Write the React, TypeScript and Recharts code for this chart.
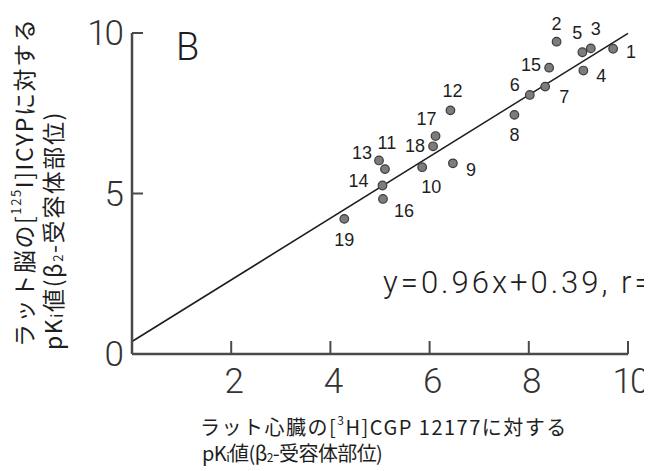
import React from 'react';
import { ScatterChart, Scatter, XAxis, YAxis, ReferenceLine, Customized } from 'recharts';

// pKi values for the 19 compounds: heart [3H]CGP12177 (x) vs brain [125I]ICYP (y)
const compoundIds = [1, 2, 3, 4, 5, 6, 7, 8, 9, 10, 11, 12, 13, 14, 15, 16, 17, 18, 19];
const heartPKi = [9.7, 8.56, 9.25, 9.1, 9.08, 8.02, 8.33, 7.71, 6.47, 5.85, 5.1, 6.42, 4.98, 5.05, 8.41, 5.06, 6.12, 6.07, 4.28];
const brainPKi = [9.51, 9.73, 9.52, 8.83, 9.4, 8.07, 8.33, 7.45, 5.94, 5.82, 5.76, 7.59, 6.03, 5.25, 8.92, 4.83, 6.79, 6.47, 4.21];

const xTicks = [2, 4, 6, 8, 10];
const yTicks = [0, 5, 10];

// regression y = 0.96x + 0.39
const slope = 0.96;
const intercept = 0.39;
const fitFrom = 0;
const fitTo = 10;

// where each compound number sits relative to its dot (px)
const labelOffset: Record<number, [number, number]> = {
  1: [18, 3], 2: [0, -18], 3: [5, -19], 4: [18, 5], 5: [-5, -19],
  6: [-15, -10], 7: [19, 10], 8: [0, 20], 9: [18, 7], 10: [9, 20],
  11: [2, -26], 12: [2, -19], 13: [-17, -7], 14: [-24, -4], 15: [-18, -3],
  16: [21, 12], 17: [-9, -17], 18: [-18, 0], 19: [0, 21],
};

const points = compoundIds.map((id, i) => ({ id, x: heartPKi[i], y: brainPKi[i] }));

const INK = '#1e1e1e';
const AXIS = '#4a4a4a';
const NUM_FONT = 'Roboto, "Liberation Sans", sans-serif';
const JP_FONT = '"Noto Sans CJK JP", "Noto Sans", sans-serif';

const Dot = (props: any) => {
  const { cx, cy, payload } = props;
  const [dx, dy] = labelOffset[payload.id] || [0, -16];
  return (
    <g>
      <circle cx={cx} cy={cy} r={4.3} fill="#7c7c7c" stroke="#3c3c3c" strokeWidth={1.2} />
      <text
        x={cx + dx}
        y={cy + dy}
        textAnchor="middle"
        dominantBaseline="central"
        fontFamily='"Liberation Sans Narrow", "Liberation Sans", sans-serif'
        fontSize={18}
        fill={INK}
      >
        {payload.id}
      </text>
    </g>
  );
};

const YTick = (props: any) => {
  const { x, y, payload } = props;
  return (
    <g>
      {payload.value > 0 && <line x1={x} y1={y} x2={x + 11} y2={y} stroke={AXIS} strokeWidth={2} />}
      <text x={x - 10} y={y} dy="0.35em" textAnchor="end" fontFamily={NUM_FONT} fontWeight={300} fontSize={35} letterSpacing={-2} fill="#333">
        {payload.value}
      </text>
    </g>
  );
};

const XTick = (props: any) => {
  const { x, y, payload } = props;
  return (
    <g>
      <line x1={x} y1={y} x2={x} y2={y - 13} stroke={AXIS} strokeWidth={2} />
      <text x={x + 2} y={y + 39} textAnchor="middle" fontFamily={NUM_FONT} fontWeight={300} fontSize={35} letterSpacing={-2} fill="#333">
        {payload.value}
      </text>
    </g>
  );
};

const Titles = () => (
  <g fill={INK}>
    <text x={168} y={52} fontFamily={NUM_FONT} fontWeight={300} fontSize={38}>B</text>
    <text x={375} y={285} fontFamily={NUM_FONT} fontWeight={300} fontSize={31} letterSpacing={3}>
      y=0.96x+0.39, r=
    </text>

    {/* y title, two rotated lines */}
    <g fontFamily={JP_FONT} fontSize={23} letterSpacing={1.6}>
      <text x={15} y={339} transform="rotate(-90 15 339)" dominantBaseline="central">
        ラット脳の[<tspan fontSize={13} dy={-8}>125</tspan><tspan dy={8}>I]ICYPに対する</tspan>
      </text>
      <text x={44} y={342} transform="rotate(-90 44 342)" dominantBaseline="central">
        pK<tspan fontSize={15} dy={4}>i</tspan><tspan dy={-4}>値(β</tspan><tspan fontSize={13} dy={5}>2</tspan><tspan dy={-5}>-受容体部位)</tspan>
      </text>
    </g>

    {/* x title */}
    <g fontFamily={JP_FONT} fontSize={20}>
      <text x={192} y={418} dominantBaseline="central" letterSpacing={1.5}>
        ラット心臓の[<tspan fontSize={12} dy={-7}>3</tspan><tspan dy={7}>H]CGP 12177に対する</tspan>
      </text>
      <text x={194} y={444} dominantBaseline="central" letterSpacing={-0.6}>
        pK<tspan fontSize={13} dy={4}>i</tspan><tspan dy={-4}>値(β</tspan><tspan fontSize={12} dy={4}>2</tspan><tspan dy={-4}>-受容体部位)</tspan>
      </text>
    </g>
  </g>
);

export default function App() {
  return (
    <ScatterChart width={644} height={463} margin={{ top: 25, right: 24, bottom: 0, left: 0 }}>
      <XAxis
        type="number"
        dataKey="x"
        domain={[0, 10]}
        ticks={xTicks}
        height={117}
        tickSize={0}
        tickMargin={0}
        tickLine={false}
        axisLine={{ stroke: AXIS, strokeWidth: 2.5 }}
        tick={<XTick />}
      />
      <YAxis
        type="number"
        dataKey="y"
        domain={[0, 10]}
        ticks={yTicks}
        width={124}
        tickSize={0}
        tickMargin={0}
        tickLine={false}
        axisLine={{ stroke: AXIS, strokeWidth: 2.5 }}
        tick={<YTick />}
      />
      <ReferenceLine
        segment={[
          { x: fitFrom, y: slope * fitFrom + intercept },
          { x: fitTo, y: slope * fitTo + intercept },
        ]}
        stroke={INK}
        strokeWidth={1.6}
      />
      <Scatter data={points} shape={<Dot />} isAnimationActive={false} />
      <Customized component={Titles} />
    </ScatterChart>
  );
}
